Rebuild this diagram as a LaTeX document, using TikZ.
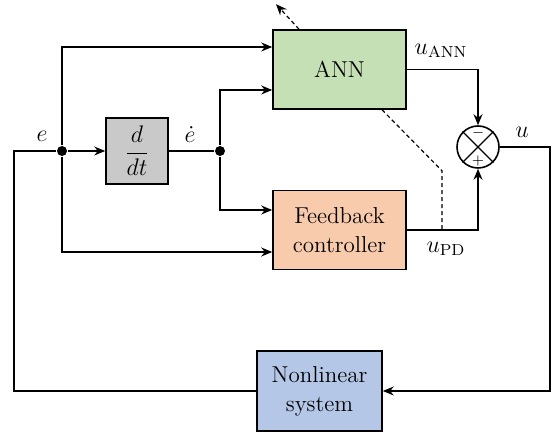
\documentclass[tikz,border=0pt]{standalone}
\usepackage{amsmath}
\usepackage{tikz}
\usetikzlibrary{arrows.meta,positioning,calc}
\definecolor{annfill}{HTML}{C5E0B4}
\definecolor{fbfill}{HTML}{F8CBAD}
\definecolor{sysfill}{HTML}{B4C7E7}
\definecolor{ddtfill}{HTML}{C9C9C9}

\begin{document}
\begin{tikzpicture}[x=0.5pt,y=0.5pt,line width=0.6pt,font=\fontsize{11.5}{14.5}\selectfont,
  blk/.style={draw,line width=0.8pt,align=center,minimum width=66.5pt,minimum height=39.5pt,inner sep=2pt},
  arr/.style={-{Stealth[length=5.5pt,width=4.5pt,inset=1.8pt]}},
  dot/.style={circle,fill,inner sep=0pt,minimum size=5pt},
  dsh/.style={dash pattern=on 2pt off 1.5pt},
  lbl/.style={inner sep=1pt}]
  \useasboundingbox (0,0) rectangle (555,432);
  % blocks
  \node[blk,fill=annfill] (ann) at (339.5,362.5) {ANN};
  \node[blk,fill=fbfill] (fb) at (339.5,202) {Feedback\\controller};
  \node[blk,fill=ddtfill,minimum width=31pt,minimum height=33pt] (ddt) at (137,281) {$\dfrac{d}{dt}$};
  \node[blk,fill=sysfill,minimum width=62.5pt,minimum height=40pt] (sys) at (319.5,41) {Nonlinear\\system};
  \node[draw,circle,line width=0.8pt,minimum size=21pt,inner sep=0pt] (sum) at (478,285) {};
  \draw (sum.45) -- (sum.225) (sum.135) -- (sum.315);
  \node[font=\scriptsize,inner sep=0pt] (minus) at (478,299) {$-$};
  \node[font=\scriptsize,inner sep=0pt] (plus) at (478,271) {$+$};
  % branch points
  \node[dot] (je) at (62,281) {};
  \node[dot] (jd) at (220,281) {};
  \coordinate (lft) at (14,281);
  \coordinate (rgt) at (550,285);
  \coordinate (tap) at (442,202);
  % signals
  \draw (sys.west) -| (lft) -- (je);
  \draw[arr] (je) -- (ddt);
  \draw (ddt) -- (jd);
  \draw[arr] (je) |- ([yshift=11.25pt]ann.west);
  \draw[arr] (je) |- ([yshift=-11pt]fb.west);
  \draw[arr] (jd) |- ([yshift=-10.25pt]ann.west);
  \draw[arr] (jd) |- ([yshift=10pt]fb.west);
  \draw[arr] (ann.east) -| (sum.north);
  \draw[arr] (fb.east) -| (sum.south);
  \draw[arr] (sum.east) -- (rgt) |- (sys.east);
  \draw[dsh] ([xshift=21.25pt]ann.south) -- ++(60,-61) -- (tap);
  \draw[arr,dsh] ([xshift=-20.25pt]ann.north) -- ++(-23,25);
  % labels
  \node[lbl] (le) at (42,296) {$e$};
  \node[lbl] (ld) at (190,297) {$\dot e$};
  \node[lbl] (luann) at (441,381) {$u_{\mathrm{ANN}}$};
  \node[lbl] (lupd) at (446,183) {$u_{\mathrm{PD}}$};
  \node[lbl] (lu) at (522,300) {$u$};
\end{tikzpicture}
\end{document}
